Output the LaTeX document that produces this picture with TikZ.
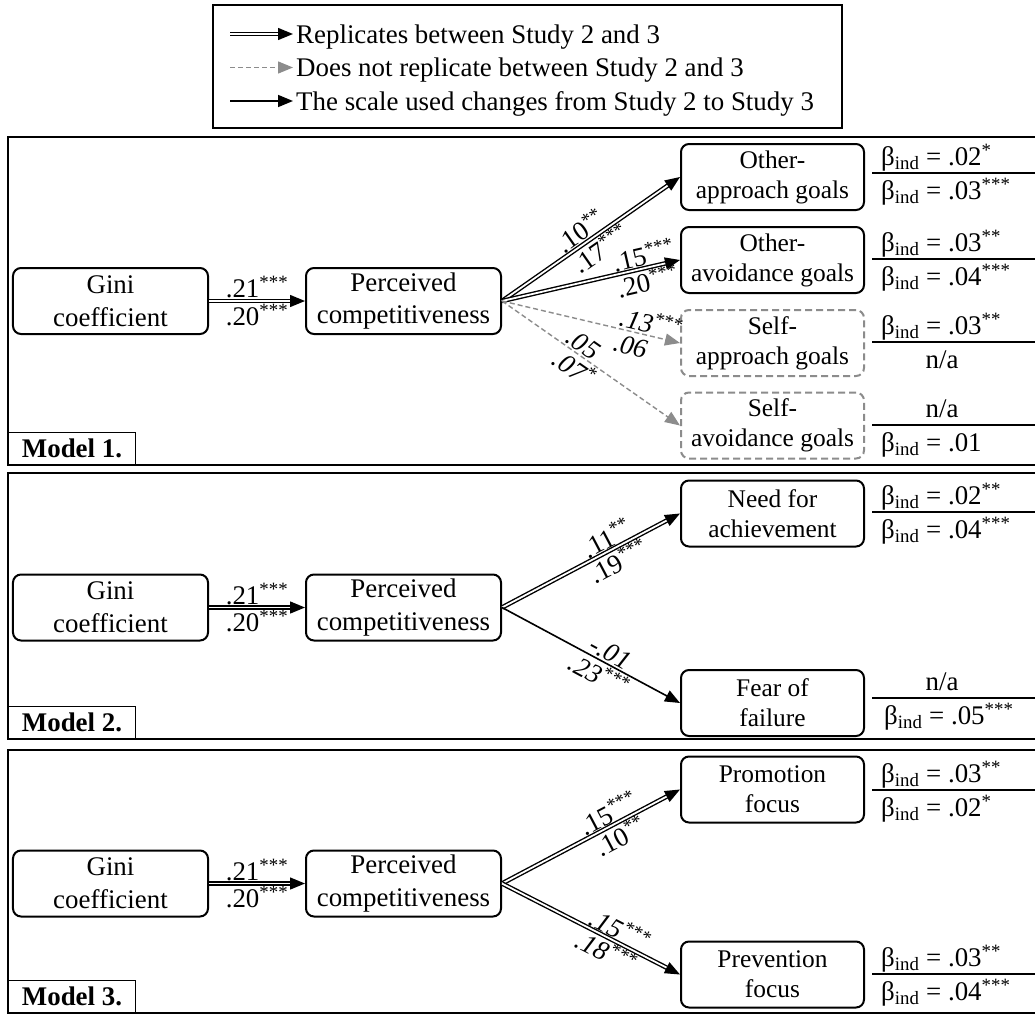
\documentclass[tikz,border=0pt]{standalone}
\usepackage{fontspec}
\setmainfont{Liberation Serif}
\usetikzlibrary{arrows.meta}
\definecolor{dgray}{RGB}{140,140,140}
\newcommand{\bind}{β\textsubscript{ind}}
\newcommand{\stars}[1]{\textsuperscript{#1}}
\begin{document}
\begin{tikzpicture}[x=1bp,y=-1bp,
  font=\fontsize{27}{32}\selectfont,
  box/.style={draw, line width=2bp, rounded corners=8bp, minimum width=195bp, minimum height=66bp, align=center, inner sep=0pt, font=\fontsize{27}{33}\selectfont},
  obox/.style={box, minimum width=183bp, font=\fontsize{25.5}{30}\selectfont},
  dbox/.style={obox, draw=dgray, dash pattern=on 7bp off 4bp},
  panel/.style={draw, line width=2bp},
  mlabel/.style={draw, line width=1bp, font=\fontsize{27}{32}\selectfont\bfseries, minimum width=127bp, minimum height=32bp, inner sep=0pt, anchor=south west},
  repl/.style={draw=black, double=white, line width=1.4bp, double distance=1.8bp, -{Triangle[length=15bp,width=12bp]}},
  norepl/.style={draw=dgray, line width=1.4bp, dash pattern=on 5bp off 3bp, -{Triangle[length=15bp,width=12bp]}},
  chg/.style={draw=black, line width=1.6bp, -{Triangle[length=15bp,width=12bp]}},
  lab/.style={sloped, inner sep=1.5bp},
  ilab/.style={sloped, inner sep=1.5bp, font=\fontsize{27}{32}\selectfont\itshape},
  hlab/.style={inner sep=2bp},
  bline/.style={line width=1.6bp},
  btxt/.style={anchor=base west, inner sep=0pt},
  ntxt/.style={anchor=base, inner sep=0pt},
  legtxt/.style={anchor=base west, inner sep=0pt}
]
\clip (0,0) rectangle (1035,1014);
\fill[white] (0,0) rectangle (1035,1014);

% ---------- legend ----------
\draw[line width=2bp] (213,5) rectangle (842,128);
\coordinate (l1a) at (230,34);   \coordinate (l1b) at (293,34);
\coordinate (l2a) at (230,67.5); \coordinate (l2b) at (293,67.5);
\coordinate (l3a) at (230,101);  \coordinate (l3b) at (293,101);
\draw[repl] (l1a) -- (l1b);
\draw[norepl] (l2a) -- (l2b);
\draw[chg] (l3a) -- (l3b);
\node[legtxt] (t1) at (296,43) {Replicates between Study 2 and 3};
\node[legtxt] (t2) at (296,76.5) {Does not replicate between Study 2 and 3};
\node[legtxt] (t3) at (296,110) {The scale used changes from Study 2 to Study 3};

% ---------- panels ----------
\draw[panel] (8,137) rectangle (1060,465);
\draw[panel] (8,473) rectangle (1060,739);
\draw[panel] (8,750) rectangle (1060,1013);
\node[mlabel] (m1) at (8,465) {Model 1.};
\node[mlabel] (m2) at (8,739) {Model 2.};
\node[mlabel] (m3) at (8,1013) {Model 3.};

% ---------- Model 1 ----------
\node[box] (g1) at (110.5,301) {Gini\\coefficient};
\node[box] (p1) at (403.5,301) {Perceived\\competitiveness};
\node[obox] (oa) at (772.5,177) {Other-\\approach goals};
\node[obox] (ov) at (772.5,260) {Other-\\avoidance goals};
\node[dbox] (sa) at (772.5,343) {Self-\\approach goals};
\node[dbox] (sv) at (772.5,425.5) {Self-\\avoidance goals};

\draw[repl] (g1.east) -- node[hlab,above]{.21\stars{***}} node[hlab,below]{.20\stars{***}} (p1.west);
\draw[repl] (p1.east) -- node[lab,above,pos=.48]{.10\stars{**}} node[lab,below,pos=.51]{.17\stars{***}} (oa.west);
\draw[repl] (p1.east) -- node[lab,above,pos=.81]{.15\stars{***}} node[lab,below,pos=.8]{.20\stars{***}} (ov.west);
\draw[norepl] (p1.east) -- node[ilab,above,pos=.82]{.13\stars{***}} node[ilab,below=3bp,pos=.74]{.06} (sa.west);
\draw[norepl] (p1.east) -- node[ilab,above,pos=.42]{.05} node[ilab,below,pos=.45]{.07\stars{*}} (sv.west);

\draw[bline] (872,173) -- (1040,173);
\node[btxt] at (881,165) {\bind{} = .02\stars{*}};
\node[btxt] at (881,199) {\bind{} = .03\stars{***}};
\draw[bline] (872,259) -- (1040,259);
\node[btxt] at (881,251) {\bind{} = .03\stars{**}};
\node[btxt] at (881,285) {\bind{} = .04\stars{***}};
\draw[bline] (872,342) -- (1040,342);
\node[btxt] at (881,334) {\bind{} = .03\stars{**}};
\node[ntxt] at (942,368) {n/a};
\draw[bline] (872,425) -- (1040,425);
\node[ntxt] at (942,417) {n/a};
\node[btxt] at (881,451) {\bind{} = .01};

% ---------- Model 2 ----------
\node[box] (g2) at (110.5,607.5) {Gini\\coefficient};
\node[box] (p2) at (403.5,607.5) {Perceived\\competitiveness};
\node[obox] (na) at (772.5,513.5) {Need for\\achievement};
\node[obox] (ff) at (772.5,703) {Fear of\\failure};

\draw[repl] (g2.east) -- node[hlab,above]{.21\stars{***}} node[hlab,below]{.20\stars{***}} (p2.west);
\draw[repl] (p2.east) -- node[lab,above,pos=.62]{.11\stars{**}} node[lab,below,pos=.62]{.19\stars{***}} (na.west);
\draw[chg] (p2.east) -- node[ilab,above,pos=.58]{-.01} node[ilab,below,pos=.58]{.23\stars{***}} (ff.west);

\draw[bline] (872,512) -- (1040,512);
\node[btxt] at (881,504) {\bind{} = .02\stars{**}};
\node[btxt] at (881,538) {\bind{} = .04\stars{***}};
\draw[bline] (872,698) -- (1040,698);
\node[ntxt] at (942,690) {n/a};
\node[btxt] at (884,724) {\bind{} = .05\stars{***}};

% ---------- Model 3 ----------
\node[box] (g3) at (110.5,883.5) {Gini\\coefficient};
\node[box] (p3) at (403.5,883.5) {Perceived\\competitiveness};
\node[obox] (pr) at (772.5,789.5) {Promotion\\focus};
\node[obox] (pv) at (772.5,974.5) {Prevention\\focus};

\draw[repl] (g3.east) -- node[hlab,above]{.21\stars{***}} node[hlab,below]{.20\stars{***}} (p3.west);
\draw[repl] (p3.east) -- node[lab,above,pos=.63]{.15\stars{***}} node[lab,below,pos=.63]{.10\stars{**}} (pr.west);
\draw[repl] (p3.east) -- node[ilab,above,pos=.63]{.15\stars{***}} node[ilab,below,pos=.62]{.18\stars{***}} (pv.west);

\draw[bline] (872,790) -- (1040,790);
\node[btxt] at (881,782) {\bind{} = .03\stars{**}};
\node[btxt] at (881,816) {\bind{} = .02\stars{*}};
\draw[bline] (872,974) -- (1040,974);
\node[btxt] at (881,966) {\bind{} = .03\stars{**}};
\node[btxt] at (881,1000) {\bind{} = .04\stars{***}};
\end{tikzpicture}
\end{document}
